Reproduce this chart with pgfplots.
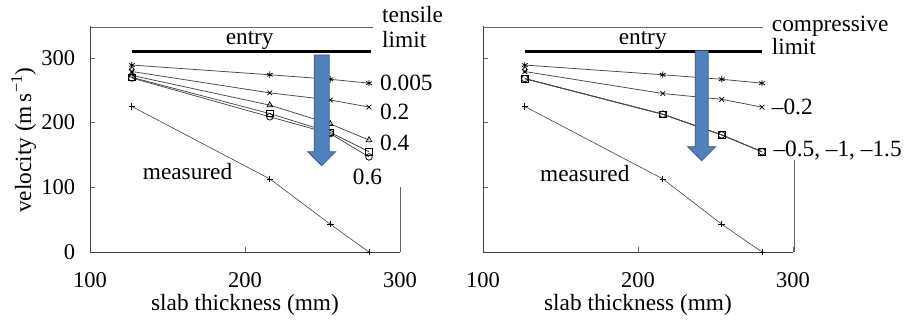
\documentclass[border=0pt]{standalone}
\usepackage{fontspec}
\setmainfont{Liberation Serif}
\usepackage{pgfplots}
\pgfplotsset{compat=1.18}
\definecolor{arrfill}{RGB}{79,129,189}
\definecolor{arredge}{RGB}{56,93,138}
\pgfplotsset{
  myax/.style={
    scale only axis, width=310pt, height=226.4pt,
    xmin=100, xmax=300, ymin=0, ymax=350,
    xtick={100,200,300}, ytick={0,100,200,300},
    axis lines=left, axis line style={-, black!75, line width=0.6pt},
    every outer x axis line/.append style={-},
    every outer y axis line/.append style={-},
    tick align=inside, major tick length=5pt,
    tick style={black!60, line width=0.5pt},
    /pgf/number format/assume math mode=true,
    every tick label/.append style={font=\fontsize{22.5}{26}\selectfont},
    xticklabel style={yshift=-13pt},
    yticklabel style={xshift=-7pt},
    clip=false, anchor=south west,
  },
  ser/.style={black!72, line width=0.75pt, mark options={black, solid, line width=0.75pt}, mark size=3.3pt},
}
\begin{document}
\fontsize{23.3}{27}\selectfont
\begin{tikzpicture}[x=1pt,y=1pt]
\useasboundingbox (0,0) rectangle (907,321);
% ---------------- left panel ----------------
\begin{axis}[myax, at={(90pt,69pt)}]
\addplot[black, line width=2.4pt] coordinates {(127,310)(281,310)};
\addplot[ser, mark=asterisk] coordinates {(127,289)(216,274)(255,267)(280,261)};
\addplot[ser, mark=x] coordinates {(127,279)(216,246)(255,235)(280,224)};
\addplot[ser, mark=triangle] coordinates {(127,273)(216,227)(255,198)(280,173)};
\addplot[ser, mark=square] coordinates {(127,270)(216,214)(255,185)(280,155)};
\addplot[ser, mark=o] coordinates {(127,269)(216,209)(255,183)(280,147)};
\addplot[ser, only marks, mark=diamond] coordinates {(127,282)};
\addplot[ser, black!75, line width=0.6pt, mark=+] coordinates {(127,225)(216,113)(255,43)(280,0)};
\end{axis}
\draw[black!60, line width=0.5pt] (90,294) -- (373,294);
\draw[black!60, line width=0.5pt] (400,69) -- (400,134);
\filldraw[fill=arrfill, draw=arredge, line width=0.8pt]
  (314.2,266) -- (329.2,266) -- (329.2,169.3) -- (335.7,169.3) -- (321.7,155.3)
  -- (307.7,169.3) -- (314.2,169.3) -- cycle;
\node[anchor=base] at (249.7,276.7) {entry};
\node[anchor=base west, inner sep=0pt] at (382,298) {tensile};
\node[anchor=base west, inner sep=0pt] at (382,273.7) {limit};
\node[anchor=base west, inner sep=0pt] at (380,230.3) {0.005};
\node[anchor=base west, inner sep=0pt] at (380,201.7) {0.2};
\node[anchor=base west, inner sep=0pt] at (380,170.3) {0.4};
\node[anchor=base west, inner sep=0pt] at (352.7,136) {0.6};
\node[anchor=base west, inner sep=0pt] at (142.7,141) {measured};
\node[rotate=90, anchor=base, inner sep=0pt] at (31,181) {velocity (m\,s\textsuperscript{−1})};
\node[anchor=base, inner sep=0pt] at (245,10) {slab thickness (mm)};
% ---------------- right panel ----------------
\begin{axis}[myax, at={(483pt,69pt)}, yticklabels={}]
\addplot[black, line width=2.4pt] coordinates {(127,310)(280,310)};
\addplot[ser, mark=asterisk] coordinates {(127,289)(216,274)(254,267)(280,261)};
\addplot[ser, mark=x] coordinates {(127,279)(216,245)(254,236)(280,224)};
\addplot[ser] coordinates {(127,268)(216,213)(254,181)(280,155)};
\addplot[ser, mark=square] coordinates {(127,268)(216,213)(254,181)(280,155)};
\addplot[ser, mark=o] coordinates {(127,268)(216,213)(254,181)(280,155)};
\addplot[ser, only marks, mark=diamond] coordinates {(127,282)};
\addplot[ser, black!75, line width=0.6pt, mark=+] coordinates {(127,225)(216,113)(254,43)(280,0)};
\end{axis}
\draw[black!60, line width=0.5pt] (483,294) -- (763,294);
\draw[black!60, line width=0.5pt] (794,69) -- (794,161);
\filldraw[fill=arrfill, draw=arredge, line width=0.8pt]
  (695.2,270.3) -- (708.2,270.3) -- (708.2,174.3) -- (715.7,174.3) -- (701.7,160.3)
  -- (687.7,174.3) -- (695.2,174.3) -- cycle;
\node[anchor=base] at (642.7,276.7) {entry};
\node[anchor=base west, inner sep=0pt] at (771.7,289.3) {compressive};
\node[anchor=base west, inner sep=0pt] at (771.7,266) {limit};
\node[anchor=base west, inner sep=0pt] at (771.7,206) {–0.2};
\node[anchor=base west, inner sep=0pt] at (773.3,164.3) {–0.5, –1, –1.5};
\node[anchor=base west, inner sep=0pt] at (540,139.3) {measured};
\node[anchor=base, inner sep=0pt] at (638,10) {slab thickness (mm)};
\end{tikzpicture}
\end{document}
